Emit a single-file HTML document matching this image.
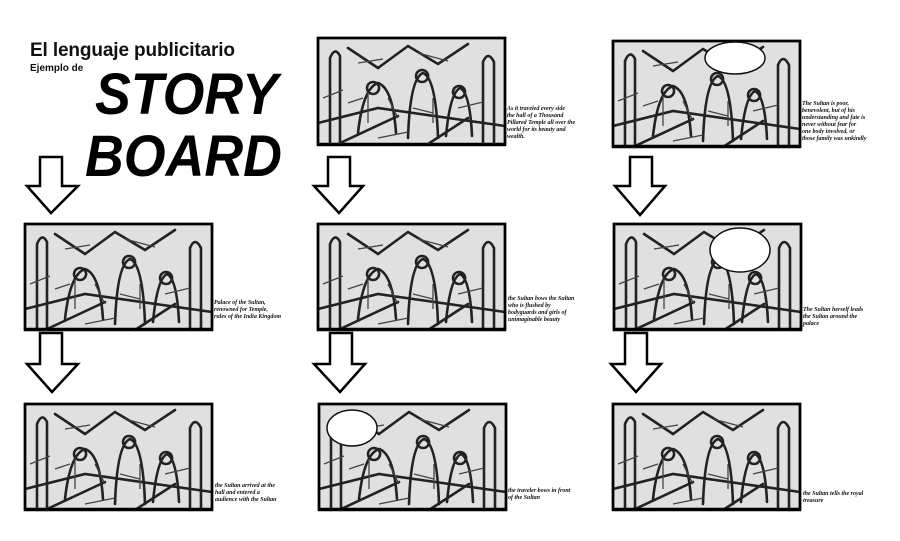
<!DOCTYPE html>
<html><head><meta charset="utf-8"><style>
html,body{margin:0;padding:0;background:#fff;}
svg{display:block;}
.cap{font-family:"Liberation Serif",serif;font-style:italic;font-weight:bold;font-size:6px;fill:#111;}
</style></head><body>
<svg width="900" height="541" viewBox="0 0 900 541" xmlns="http://www.w3.org/2000/svg">
<defs>
<g id="sk">
<rect x="0" y="0" width="187" height="106" fill="#e0e0e0"/>
<g stroke="#222" stroke-width="2.6" fill="none" stroke-linecap="round">
<path d="M12 106 V20 M22 106 V18 M12 20 Q17 8 22 18"/>
<path d="M165 106 V24 M176 106 V24 M165 24 Q170 12 176 24"/>
<path d="M40 95 Q45 50 60 45 Q75 50 78 95"/>
<path d="M90 100 Q92 40 105 35 Q118 40 120 100"/>
<path d="M128 98 Q132 55 142 50 Q152 55 154 98"/>
<path d="M55 44 a6 6 0 1 0 0.1 0 M104 32 a6 6 0 1 0 0.1 0 M141 48 a6 6 0 1 0 0.1 0"/>
<path d="M0 85 L60 70 L187 88 M20 106 L80 78 M110 106 L150 80"/>
<path d="M30 10 L60 30 L90 8 L120 26 L150 6"/>
</g>
<g stroke="#444" stroke-width="1.3" fill="none">
<path d="M5 60 l20 -8 M30 65 l15 -5 M95 70 l20 5 M140 70 l25 -6 M60 100 l30 -6 M100 15 l30 8 M40 25 l25 -4 M50 55 l0 30 M115 60 l0 25 M70 60 l10 20"/>
</g>
</g>
</defs>

<text x="30" y="56" font-family="Liberation Sans,sans-serif" font-weight="bold" font-size="19" fill="#111" textLength="205">El lenguaje publicitario</text>
<text x="30" y="71" font-family="Liberation Sans,sans-serif" font-weight="bold" font-size="10" fill="#111">Ejemplo de</text>
<text x="95" y="114" font-family="Liberation Sans,sans-serif" font-weight="bold" font-style="italic" font-size="58" fill="#000" textLength="183" lengthAdjust="spacingAndGlyphs">STORY</text>
<text x="85" y="176" font-family="Liberation Sans,sans-serif" font-weight="bold" font-style="italic" font-size="58" fill="#000" textLength="197" lengthAdjust="spacingAndGlyphs">BOARD</text>

<g stroke="#000" stroke-width="2.5" fill="none">
<use href="#sk" x="318" y="38"/><rect x="318" y="38" width="187" height="107"/>
<use href="#sk" x="613" y="41"/><rect x="613" y="41" width="187" height="105"/>
<use href="#sk" x="25" y="224"/><rect x="25" y="224" width="187" height="105"/>
<use href="#sk" x="318" y="224"/><rect x="318" y="224" width="187" height="105"/>
<use href="#sk" x="614" y="224"/><rect x="614" y="224" width="187" height="105"/>
<use href="#sk" x="25" y="404"/><rect x="25" y="404" width="187" height="105"/>
<use href="#sk" x="319" y="404"/><rect x="319" y="404" width="187" height="105"/>
<use href="#sk" x="613" y="404"/><rect x="613" y="404" width="187" height="105"/>
</g>
<g fill="#fff" stroke="#111" stroke-width="1.5">
<ellipse cx="740" cy="250" rx="30" ry="22"/>
<ellipse cx="735" cy="58" rx="30" ry="16"/>
<ellipse cx="352" cy="428" rx="25" ry="18"/>
</g>

<g fill="#fff" stroke="#000" stroke-width="2.5" stroke-linejoin="miter">
<path d="M40 157 H62 V186 H78 L51 213 L27 186 H40 Z"/>
<path d="M328 157 H350 V186 H363 L339 213 L314 186 H328 Z"/>
<path d="M630 157 H652 V186 H665 L640 215 L615 186 H630 Z"/>
<path d="M40 333 H62 V364 H78 L52 392 L27 364 H40 Z"/>
<path d="M330 333 H352 V364 H365 L340 392 L314 364 H330 Z"/>
<path d="M625 333 H647 V364 H661 L636 392 L611 364 H625 Z"/>
</g>

<text class="cap"><tspan x="507" y="110">As it traveled every side</tspan><tspan x="507" y="117">the hall of a Thousand</tspan><tspan x="507" y="124">Pillared Temple all over the</tspan><tspan x="507" y="131">world for its beauty and</tspan><tspan x="507" y="138">wealth.</tspan></text>
<text class="cap"><tspan x="802" y="105">The Sultan is poor,</tspan><tspan x="802" y="112">benevolent, but of his</tspan><tspan x="802" y="119">understanding and fate is</tspan><tspan x="802" y="126">never without fear for</tspan><tspan x="802" y="133">one body involved, or</tspan><tspan x="802" y="140">those family was unkindly</tspan></text>
<text class="cap"><tspan x="214" y="304">Palace of the Sultan,</tspan><tspan x="214" y="311">renowned for Temple,</tspan><tspan x="214" y="318">rules of the India Kingdom</tspan></text>
<text class="cap"><tspan x="508" y="300">the Sultan bows the Sultan</tspan><tspan x="508" y="307">who is flushed by</tspan><tspan x="508" y="314">bodyguards and girls of</tspan><tspan x="508" y="321">unimaginable beauty</tspan></text>
<text class="cap"><tspan x="803" y="311">The Sultan herself leads</tspan><tspan x="803" y="318">the Sultan around the</tspan><tspan x="803" y="325">palace</tspan></text>
<text class="cap"><tspan x="215" y="487">the Sultan arrived at the</tspan><tspan x="215" y="494">hall and entered a</tspan><tspan x="215" y="501">audience with the Sultan</tspan></text>
<text class="cap"><tspan x="508" y="492">the traveler bows in front</tspan><tspan x="508" y="499">of the Sultan</tspan></text>
<text class="cap"><tspan x="803" y="495">the Sultan tells the royal</tspan><tspan x="803" y="502">treasure</tspan></text>
</svg>
</body></html>
